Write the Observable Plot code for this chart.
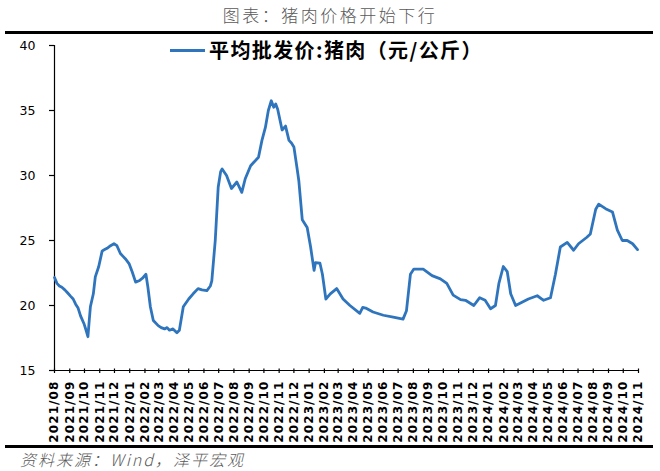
<!DOCTYPE html>
<html>
<head>
<meta charset="utf-8">
<script src="https://cdn.jsdelivr.net/npm/d3@7"></script>
<script src="https://cdn.jsdelivr.net/npm/@observablehq/plot@0.6"></script>
<style>
  html, body { margin: 0; padding: 0; background: #fff; }
  #wrap { position: relative; width: 660px; height: 471px; overflow: hidden; background: #fff; }
  #title { position: absolute; left: 0; top: 4px; width: 660px; text-align: center; font-family: "Noto Sans CJK SC", sans-serif; font-weight: 300; font-size: 17px; letter-spacing: 2.5px; color: #595959; line-height: 22px; }
  .rule { position: absolute; left: 5px; width: 648px; height: 3px; background: #000; }
  #chart { position: absolute; left: 0; top: 34px; }
  #legend { position: absolute; left: 170px; top: 37px; height: 26px; display: flex; align-items: center; }
  #legend .sw { width: 35px; height: 3px; background: #2f75bd; margin-right: 4px; }
  #legend .lt { font-family: "Noto Sans CJK SC", sans-serif; font-weight: 700; font-size: 20px; letter-spacing: 1.4px; color: #000; line-height: 26px; }
  #caption { position: absolute; left: 20px; top: 449px; font-family: "Noto Sans CJK SC", sans-serif; font-style: italic; font-weight: 300; font-size: 16px; letter-spacing: 2px; color: #595959; line-height: 20px; }
</style>
</head>
<body>
<div id="wrap">
  <div id="title">图表：猪肉价格开始下行</div>
  <div class="rule" style="top:31px"></div>
  <div id="chart"></div>
  <div class="rule" style="top:445px"></div>
  <div id="legend"><div class="sw"></div><div class="lt">平均批发价:猪肉（元/公斤）</div></div>
  <div id="caption">资料来源：Wind，泽平宏观</div>
</div>
<script>
const dates = [
  "2021-08-01","2021-08-06","2021-08-11","2021-08-16","2021-08-22","2021-08-27",
  "2021-09-03","2021-09-08","2021-09-13","2021-09-18","2021-09-23","2021-09-30",
  "2021-10-05","2021-10-08","2021-10-11","2021-10-13","2021-10-19","2021-10-23","2021-10-30",
  "2021-11-06","2021-11-11","2021-11-16","2021-11-23","2021-11-30",
  "2021-12-06","2021-12-13","2021-12-18","2021-12-23","2021-12-31",
  "2022-01-06","2022-01-13","2022-01-20","2022-01-27",
  "2022-02-03","2022-02-07","2022-02-12","2022-02-18","2022-02-28",
  "2022-03-06","2022-03-13","2022-03-18","2022-03-23","2022-03-30",
  "2022-04-07","2022-04-12","2022-04-20","2022-05-01","2022-05-10","2022-05-20","2022-05-28",
  "2022-06-07","2022-06-14","2022-06-17","2022-06-24","2022-06-30",
  "2022-07-05","2022-07-08","2022-07-17","2022-07-27",
  "2022-08-07","2022-08-17","2022-08-24","2022-09-04","2022-09-10","2022-09-20","2022-09-27",
  "2022-10-04","2022-10-10","2022-10-16","2022-10-21","2022-10-25","2022-10-29",
  "2022-11-07","2022-11-14","2022-11-21","2022-11-26","2022-12-01","2022-12-08","2022-12-11","2022-12-18","2022-12-28",
  "2023-01-04","2023-01-11","2023-01-14","2023-01-23","2023-01-28",
  "2023-02-04","2023-02-13","2023-02-26","2023-03-11","2023-03-25",
  "2023-04-14","2023-04-20","2023-04-26","2023-05-11","2023-06-01","2023-06-21",
  "2023-07-11","2023-07-18","2023-07-26","2023-08-02","2023-08-21",
  "2023-09-08","2023-09-25","2023-10-08","2023-10-21","2023-11-05","2023-11-15",
  "2023-12-02","2023-12-14","2023-12-25",
  "2024-01-05","2024-01-15","2024-01-22","2024-01-31","2024-02-08","2024-02-15","2024-02-25",
  "2024-03-09","2024-03-22","2024-04-09","2024-04-22","2024-05-06","2024-05-16","2024-05-26",
  "2024-06-09","2024-06-22","2024-07-02","2024-07-19","2024-07-26",
  "2024-08-06","2024-08-12","2024-08-26","2024-09-09","2024-09-19","2024-09-29",
  "2024-10-09","2024-10-20","2024-10-30"
];
const prices = [
  22.15,21.7,21.5,21.4,21.2,21.0,
  20.7,20.5,20.1,19.8,19.2,18.6,
  18.0,17.6,19.0,19.9,20.9,22.2,23.0,
  24.2,24.3,24.4,24.6,24.75,
  24.6,24.0,23.8,23.6,23.2,
  22.6,21.8,21.9,22.1,
  22.4,21.4,19.9,18.85,18.45,
  18.3,18.2,18.3,18.1,18.2,
  17.9,18.1,19.9,20.5,20.9,21.3,21.2,
  21.15,21.5,21.9,25.0,29.1,
  30.3,30.5,30.0,29.0,
  29.5,28.7,29.75,30.75,31.0,31.4,32.7,
  33.7,35.0,35.75,35.25,35.5,35.1,
  33.5,33.8,32.7,32.5,32.2,30.4,29.6,26.6,26.0,
  24.5,22.7,23.3,23.25,22.4,
  20.5,20.9,21.3,20.5,20.0,
  19.4,19.85,19.8,19.5,19.25,19.1,
  18.95,19.6,22.4,22.8,22.8,
  22.3,22.05,21.7,20.8,20.45,20.4,
  20.0,20.6,20.4,
  19.75,20.0,21.7,23.0,22.6,20.9,20.0,
  20.25,20.5,20.75,20.4,20.6,22.4,24.5,
  24.85,24.25,24.75,25.25,25.5,
  27.4,27.8,27.45,27.2,25.8,25.0,
  25.0,24.75,24.3
];
const yTicks = [15, 20, 25, 30, 35, 40];
const xStart = "2021-08-01";
const xEnd = "2024-11-01";

const data = dates.map((d, i) => ({date: new Date(d + "T00:00:00Z"), price: prices[i]}));
const start = new Date(xStart + "T00:00:00Z");
const end = new Date(xEnd + "T00:00:00Z");
const monthTicks = d3.utcMonth.range(start, d3.utcDay.offset(end, 1));
const fmt = d3.utcFormat("%Y/%m");

const plot = Plot.plot({
  width: 660,
  height: 412,
  marginTop: 11,
  marginBottom: 76,
  marginLeft: 54,
  marginRight: 22,
  style: {fontFamily: "DejaVu Sans, sans-serif", fontSize: "12px", color: "#000", background: "transparent"},
  x: {type: "utc", domain: [start, end]},
  y: {domain: [15, 40]},
  marks: [
    Plot.axisY({ticks: yTicks, tickSize: 5, tickPadding: 14, label: null, stroke: "#000", strokeWidth: 1.2, fontSize: 12.5}),
    Plot.axisX({ticks: monthTicks, tickSize: 4.5, dy: -1.5, tickFormat: () => "", label: null, stroke: "#000", strokeWidth: 1.2}),
    Plot.axisX({ticks: monthTicks, tickSize: 0, tickPadding: 10, tickRotate: -90, tickFormat: fmt, label: null, fontSize: 12, fontWeight: "bold"}),
    Plot.ruleY([15], {stroke: "#000", strokeWidth: 1.2}),
    Plot.ruleX([start], {y1: 15, y2: 40, stroke: "#000", strokeWidth: 1.2}),
    Plot.line(data, {x: "date", y: "price", stroke: "#2f75bd", strokeWidth: 2.8, strokeLinejoin: "round", curve: "linear"})
  ]
});
document.getElementById("chart").appendChild(plot);
d3.select(plot).selectAll('g[aria-label="x-axis tick label"] text').style("letter-spacing", "1.1px");
</script>
</body>
</html>
